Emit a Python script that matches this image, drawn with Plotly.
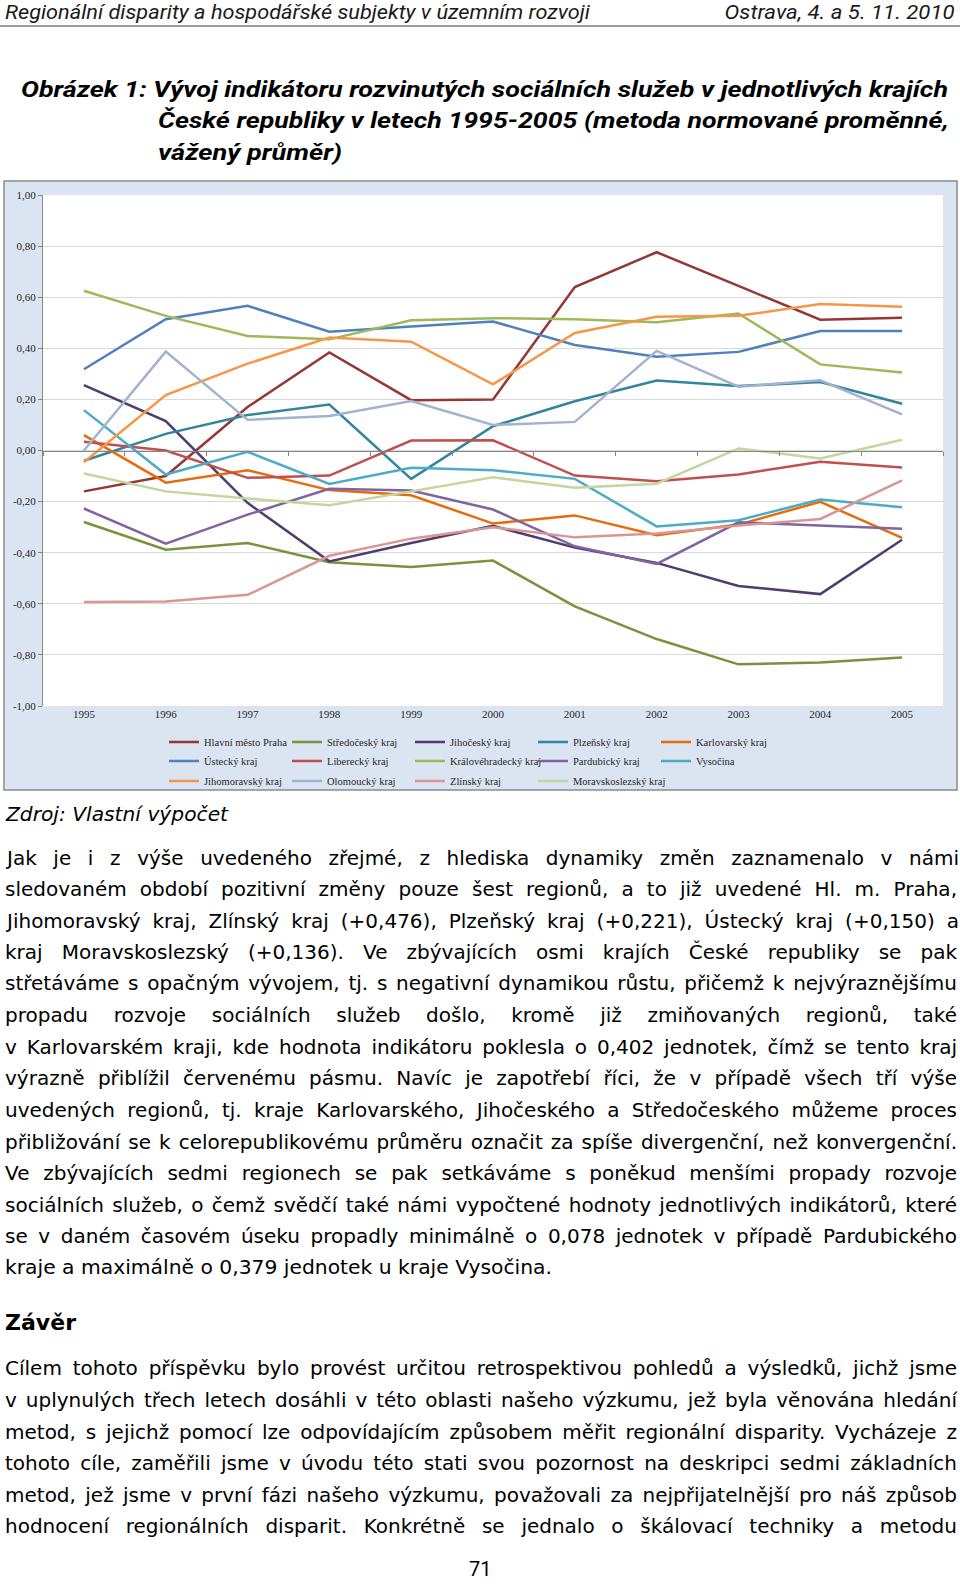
import json
import plotly.graph_objects as go

W, H = 960, 1584

# ---------------- data ----------------
years = ["1995", "1996", "1997", "1998", "1999", "2000", "2001", "2002", "2003", "2004", "2005"]

regions = ["Hlavní město Praha", "Středočeský kraj", "Jihočeský kraj", "Plzeňský kraj",
           "Karlovarský kraj", "Ústecký kraj", "Liberecký kraj", "Královéhradecký kraj",
           "Pardubický kraj", "Vysočina", "Jihomoravský kraj", "Olomoucký kraj",
           "Zlínský kraj", "Moravskoslezský kraj"]

praha = [-0.160, -0.100, 0.170, 0.384, 0.197, 0.200, 0.640, 0.776, 0.644, 0.512, 0.520]
stredocesky = [-0.280, -0.388, -0.362, -0.437, -0.456, -0.431, -0.610, -0.738, -0.837, -0.830, -0.810]
jihocesky = [0.256, 0.115, -0.205, -0.434, -0.362, -0.295, -0.380, -0.440, -0.530, -0.562, -0.349]
plzensky = [-0.040, 0.065, 0.139, 0.180, -0.111, 0.095, 0.193, 0.274, 0.252, 0.268, 0.183]
karlovarsky = [0.060, -0.126, -0.077, -0.155, -0.175, -0.286, -0.254, -0.332, -0.290, -0.201, -0.342]
ustecky = [0.318, 0.514, 0.566, 0.465, 0.485, 0.505, 0.413, 0.367, 0.386, 0.468, 0.468]
liberecky = [0.034, 0.000, -0.107, -0.098, 0.039, 0.040, -0.098, -0.120, -0.094, -0.044, -0.067]
kralovehradecky = [0.625, 0.527, 0.448, 0.435, 0.510, 0.518, 0.514, 0.502, 0.536, 0.337, 0.305]
pardubicky = [-0.227, -0.365, -0.251, -0.150, -0.157, -0.231, -0.375, -0.444, -0.281, -0.293, -0.306]
vysocina = [0.158, -0.094, -0.005, -0.131, -0.068, -0.077, -0.111, -0.297, -0.273, -0.192, -0.222]
jihomoravsky = [-0.046, 0.217, 0.340, 0.442, 0.426, 0.259, 0.460, 0.523, 0.527, 0.573, 0.563]
olomoucky = [0.000, 0.387, 0.120, 0.135, 0.194, 0.100, 0.112, 0.390, 0.250, 0.275, 0.141]
zlinsky = [-0.593, -0.591, -0.565, -0.412, -0.345, -0.300, -0.340, -0.325, -0.294, -0.268, -0.117]
moravskoslezsky = [-0.090, -0.160, -0.188, -0.214, -0.160, -0.105, -0.146, -0.130, 0.008, -0.031, 0.042]

series_values = [praha, stredocesky, jihocesky, plzensky, karlovarsky, ustecky, liberecky,
                 kralovehradecky, pardubicky, vysocina, jihomoravsky, olomoucky, zlinsky,
                 moravskoslezsky]

ytick_vals = [1.0, 0.8, 0.6, 0.4, 0.2, 0.0, -0.2, -0.4, -0.6, -0.8, -1.0]
ytick_text = ["1,00", "0,80", "0,60", "0,40", "0,20", "0,00", "-0,20", "-0,40", "-0,60", "-0,80", "-1,00"]

header_left = "Regionální disparity a hospodářské subjekty v územním rozvoji"
header_right = "Ostrava, 4. a 5. 11. 2010"
caption_lines = ["Obrázek 1: Vývoj indikátoru rozvinutých sociálních služeb v jednotlivých krajích",
                 "České republiky v letech 1995-2005 (metoda normované proměnné,",
                 "vážený průměr)"]
source_text = "Zdroj: Vlastní výpočet"
para1 = [
    "Jak je i z výše uvedeného zřejmé, z hlediska dynamiky změn zaznamenalo v námi",
    "sledovaném období pozitivní změny pouze šest regionů, a to již uvedené Hl. m. Praha,",
    "Jihomoravský kraj, Zlínský kraj (+0,476), Plzeňský kraj (+0,221), Ústecký kraj (+0,150) a",
    "kraj Moravskoslezský (+0,136). Ve zbývajících osmi krajích České republiky se pak",
    "střetáváme s opačným vývojem, tj. s negativní dynamikou růstu, přičemž k nejvýraznějšímu",
    "propadu rozvoje sociálních služeb došlo, kromě již zmiňovaných regionů, také",
    "v Karlovarském kraji, kde hodnota indikátoru poklesla o 0,402 jednotek, čímž se tento kraj",
    "výrazně přiblížil červenému pásmu. Navíc je zapotřebí říci, že v případě všech tří výše",
    "uvedených regionů, tj. kraje Karlovarského, Jihočeského a Středočeského můžeme proces",
    "přibližování se k celorepublikovému průměru označit za spíše divergenční, než konvergenční.",
    "Ve zbývajících sedmi regionech se pak setkáváme s poněkud menšími propady rozvoje",
    "sociálních služeb, o čemž svědčí také námi vypočtené hodnoty jednotlivých indikátorů, které",
    "se v daném časovém úseku propadly minimálně o 0,078 jednotek v případě Pardubického",
    "kraje a maximálně o 0,379 jednotek u kraje Vysočina.",
]
heading2 = "Závěr"
para2 = [
    "Cílem tohoto příspěvku bylo provést určitou retrospektivou pohledů a výsledků, jichž jsme",
    "v uplynulých třech letech dosáhli v této oblasti našeho výzkumu, jež byla věnována hledání",
    "metod, s jejichž pomocí lze odpovídajícím způsobem měřit regionální disparity. Vycházeje z",
    "tohoto cíle, zaměřili jsme v úvodu této stati svou pozornost na deskripci sedmi základních",
    "metod, jež jsme v první fázi našeho výzkumu, považovali za nejpřijatelnější pro náš způsob",
    "hodnocení regionálních disparit. Konkrétně se jednalo o škálovací techniky a metodu",
]
page_number = "71"

# ---------------- styles ----------------
colors = ["#953735", "#77933C", "#4F3D70", "#31859C", "#E46C0A", "#4F81BD", "#C0504D",
          "#9BBB59", "#8064A2", "#4BACC6", "#F79646", "#A2B3CF", "#D99694", "#C3D69B"]
legend_ids = ["legend"] * 5 + ["legend2"] * 5 + ["legend3"] * 4

SERIF = "Liberation Serif, Times New Roman, serif"
SANS = "DejaVu Sans, Verdana, sans-serif"
NARROW = "Roboto, Liberation Sans, sans-serif"


def px_x(x):
    return x / W


def px_y(y):
    return 1 - y / H


fig = go.Figure()
for i, (name, vals, col, lg) in enumerate(zip(regions, series_values, colors, legend_ids)):
    extra = {}
    if i == len(regions) - 1:
        extra["legendwidth"] = 120
    fig.add_trace(go.Scatter(x=years, y=vals, name=name, mode="lines",
                             line=dict(color=col, width=2.5), legend=lg,
                             hoverinfo="skip", **extra))
# helper (empty) trace for the category axis crossing at zero
fig.add_trace(go.Scatter(x=[], y=[], xaxis="x2", yaxis="y", showlegend=False, hoverinfo="skip"))

x_dom = [px_x(43), px_x(943)]
y_dom = [px_y(706), px_y(195)]

legend_common = dict(orientation="h", xref="paper", yref="paper", xanchor="left", yanchor="middle",
                     bgcolor="rgba(0,0,0,0)", borderwidth=0, entrywidth=78, entrywidthmode="pixels",
                     itemwidth=30, font=dict(family=SERIF, size=10.5, color="#262626"),
                     traceorder="normal")

fig.update_layout(
    width=W, height=H,
    margin=dict(l=0, r=0, t=0, b=0, autoexpand=False),
    paper_bgcolor="white", plot_bgcolor="white",
    separators=", ",
    showlegend=True,
    xaxis=dict(domain=x_dom, type="category", range=[-0.5, 10.5], showgrid=False, showline=False,
               zeroline=False, ticks="", tickfont=dict(family=SERIF, size=11, color="#262626"),
               fixedrange=True),
    xaxis2=dict(overlaying="x", anchor="free", position=px_y(451), domain=x_dom, type="linear",
                range=[-0.5, 10.5], tickmode="array", tickvals=[k - 0.5 for k in range(12)],
                ticks="outside", ticklen=4, tickcolor="#868686", showticklabels=False,
                showline=True, linecolor="#868686", linewidth=1, showgrid=False, zeroline=False,
                fixedrange=True),
    yaxis=dict(domain=y_dom, range=[-1, 1], tickmode="array", tickvals=ytick_vals, ticktext=ytick_text,
               showgrid=True, gridcolor="#d9d9d9", gridwidth=1, zeroline=False, showline=True,
               linecolor="#868686", linewidth=1, ticks="outside", ticklen=4, tickcolor="#868686",
               tickfont=dict(family=SERIF, size=11, color="#262626"), fixedrange=True),
    legend=dict(legend_common, x=px_x(164), y=px_y(742)),
    legend2=dict(legend_common, x=px_x(164), y=px_y(761)),
    legend3=dict(legend_common, x=px_x(164), y=px_y(781)),
)

# chart area background + frame, white plot area, header rule
fig.add_shape(type="rect", xref="paper", yref="paper", x0=px_x(4), x1=px_x(957), y0=px_y(790),
              y1=px_y(181), fillcolor="#dbe5f1", line=dict(color="#8c8c8c", width=1.5), layer="below")
fig.add_shape(type="rect", xref="x domain", yref="y domain", x0=0, x1=1, y0=0, y1=1,
              fillcolor="white", line=dict(width=0), layer="below")
fig.add_shape(type="line", xref="paper", yref="paper", x0=0, x1=1, y0=px_y(26), y1=px_y(26),
              line=dict(color="#3a3a3a", width=1))

# ---------------- text ----------------
anns = []
specs = {}


def add_text(text, x, y, size, weight="normal", style="normal", family=SANS, mode=None, width=None,
             xanchor="left", color="#000000"):
    idx = len(anns)
    align = {"left": "left", "right": "right", "center": "center"}[xanchor]
    anns.append(dict(text=text, x=px_x(x), y=px_y(y), xref="paper", yref="paper", xanchor=xanchor,
                     yanchor="middle", showarrow=False, align=align,
                     borderpad=0, font=dict(family=family, size=size, color=color, weight=weight,
                                            style=style)))
    if mode:
        specs[str(idx)] = {"m": mode, "w": width}


add_text(header_left, 4, 12, 20, style="italic", family=NARROW, mode="f", width=585, color="#1a1a1a")
add_text(header_right, 956, 12, 20, style="italic", family=NARROW, mode="f", width=230,
         xanchor="right", color="#1a1a1a")

cap_x = [20, 157, 157]
cap_y = [89, 120, 153]
cap_w = [927, 791, 184]
for t, x, y, w in zip(caption_lines, cap_x, cap_y, cap_w):
    add_text(t, x, y, 22, weight="bold", style="italic", family=NARROW, mode="f", width=w)

add_text(source_text, 4, 814, 19, style="italic", mode="f", width=222)

p1_y = [858, 889, 921, 952, 983, 1015, 1047, 1078, 1110, 1142, 1173, 1205, 1236, 1267]
for i, (t, y) in enumerate(zip(para1, p1_y)):
    if i == len(para1) - 1:
        add_text(t, 4, y, 20, mode="f", width=547)
    else:
        add_text(t, 4, y, 20, mode="j", width=952)

add_text(heading2, 4, 1322, 22, weight="bold", mode="f", width=71)

p2_y = [1368, 1400, 1432, 1463, 1495, 1526]
for t, y in zip(para2, p2_y):
    add_text(t, 4, y, 20, mode="j", width=952)

add_text(page_number, 480, 1569, 20, family=NARROW, xanchor="center")

fig.update_layout(annotations=anns)

post = """
(function(){
  document.documentElement.style.overflow = 'hidden';
  document.body.style.margin = '0';
  var gd = document.getElementById('{plot_id}');
  var specs = SPECS;
  function fix(){
    var groups = gd.querySelectorAll('g.annotation');
    for (var k = 0; k < groups.length; k++) {
      var g = groups[k];
      var s = specs[g.getAttribute('data-index')];
      if (!s) continue;
      var t = g.querySelector('text.annotation-text');
      if (!t) continue;
      t.style.wordSpacing = '0px';
      t.removeAttribute('textLength');
      t.removeAttribute('lengthAdjust');
      var w = t.getComputedTextLength();
      var n = (t.textContent.match(/ /g) || []).length;
      if (s.m === 'j' && w < s.w && n > 0) {
        t.style.wordSpacing = ((s.w - w) / n) + 'px';
      } else {
        t.setAttribute('textLength', s.w);
        t.setAttribute('lengthAdjust', 'spacingAndGlyphs');
      }
    }
  }
  fix();
  if (gd.on) gd.on('plotly_afterplot', fix);
})();
""".replace("SPECS", json.dumps(specs))

fig.write_html("out.html", post_script=post, config={"displayModeBar": False, "responsive": False})
